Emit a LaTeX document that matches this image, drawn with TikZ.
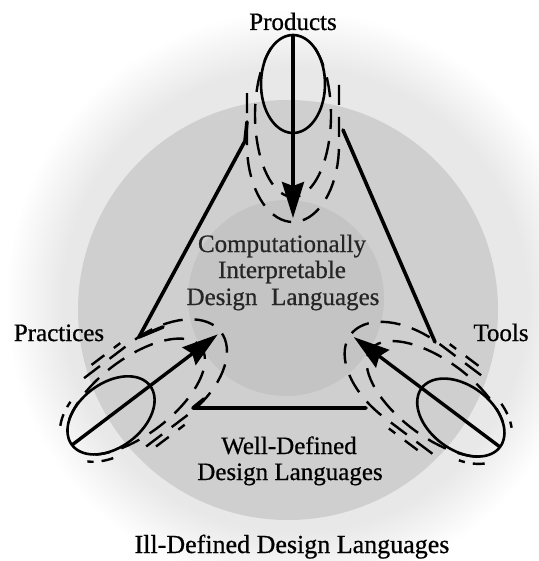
\documentclass[tikz,border=0pt]{standalone}
\usepackage{fontspec}
\setmainfont{Liberation Serif}[BoldFont=Liberation Serif, BoldFeatures={FakeBold=0.7}]
\usetikzlibrary{arrows.meta}
\pgfdeclareradialshading{halo}{\pgfpoint{0bp}{0bp}}{color(0bp)=(black!9); color(20bp)=(black!9); color(25bp)=(white); color(50bp)=(white)}
\tikzset{
  edge/.style={line width=3.6pt, line cap=round, line join=round},
  oval/.style={line width=2.6pt},
  dashline/.style={line width=2.4pt, dash pattern=on 20pt off 12pt},
  shaft/.style={line width=3.4pt, -{Stealth[length=36pt,width=22pt,inset=4pt]}},
  lbl/.style={anchor=base, inner sep=0pt, font=\fontsize{25}{27}\selectfont\bfseries},
  clbl/.style={lbl, text=black!85},
  vortex/.pic={
    \coordinate (-o) at (0,0);
    \coordinate (-t) at (183,0);
    \draw[oval] plot[domain=0:360,samples=73,variable=\u] ({49+49*cos(\u)},{32*sin(\u)}) -- cycle;
    \draw[dashline] plot[domain=-145:145,samples=61,variable=\u] ({80+82*cos(\u)},{38*sin(\u)});
    \draw[dashline] (50,-46) -- (110,-46) -- plot[domain=-90:90,samples=37,variable=\u] ({110+77*cos(\u)},{46*sin(\u)}) -- (50,46);
    \draw[shaft] (-o) -- (-t);
  },
  vortexextra/.pic={
    \draw[dashline, dash pattern=on 16pt off 12pt] (64,-52) -- (100,-52);
    \draw[dashline, dash pattern=on 16pt off 12pt] (66,52) -- (102,52);
    \draw[dashline, dash pattern=on 12pt off 8pt] plot[domain=115:145,samples=10,variable=\u] ({49+57*cos(\u)},{39*sin(\u)});
    \draw[dashline, dash pattern=on 12pt off 8pt] plot[domain=215:245,samples=10,variable=\u] ({49+57*cos(\u)},{39*sin(\u)});
  }
}
\begin{document}
\begin{tikzpicture}[x=1pt,y=-1pt]
\useasboundingbox (0,0) rectangle (538,561);
\fill[white] (0,0) rectangle (538,561);
\shade[shading=halo] (295,300) circle[radius=290pt];
\fill[black!19] (288,310) circle[radius=210pt];
\fill[black!23] (286,298) circle[radius=98pt];

% texts
\node[lbl] (products) at (293,30) {Products};
\node[lbl] (practices) at (59,341) {Practices};
\node[lbl] (tools) at (501,341) {Tools};
\node[clbl] (ci1) at (282,252) {Computationally};
\node[clbl] (ci2) at (282,278) {Interpretable};
\node[clbl] (ci3) at (283,305) {Design\hspace{0.55em}Languages};
\node[lbl] (wd1) at (289,454) {Well-Defined};
\node[lbl] (wd2) at (290,480) {Design Languages};
\node[lbl, font=\fontsize{26}{28}\selectfont\bfseries] (id) at (292,553) {Ill-Defined Design Languages};

% triangle
\coordinate (L1) at (247,122);
\coordinate (L2) at (245,141);
\coordinate (L3) at (139,337);
\coordinate (L4) at (163,327);
\coordinate (R1) at (343,130);
\coordinate (R2) at (435,342);
\coordinate (B1) at (204,399);
\coordinate (B2) at (193,408);
\coordinate (B3) at (366,408);
\draw[edge] (L1) -- (L2) -- (L3) -- (L4);
\draw[edge] (R1) -- (R2);
\draw[edge] (B1) -- (B2) -- (B3);

% vortices
\pic (prod) [rotate=-90] at (293,35) {vortex};
\pic (prac) [rotate=37.19] at (72,445) {vortex};
\pic (pracx) [rotate=37.19] at (72,445) {vortexextra};
\pic (tool) [rotate=143.07] at (500,447) {vortex};
\pic (toolx) [rotate=143.07] at (500,447) {vortexextra};
\end{tikzpicture}
\end{document}
